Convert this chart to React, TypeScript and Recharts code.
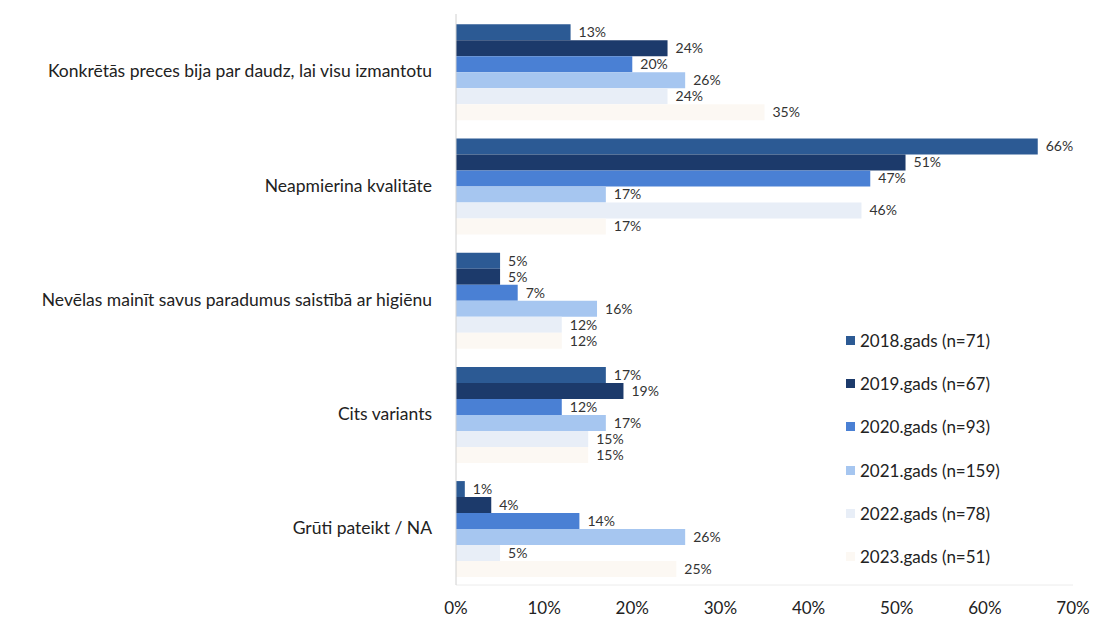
import { BarChart, Bar, XAxis, YAxis, LabelList } from "recharts";

const categories = [
  "Konkrētās preces bija par daudz, lai visu izmantotu",
  "Neapmierina kvalitāte",
  "Nevēlas mainīt savus paradumus saistībā ar higiēnu",
  "Cits variants",
  "Grūti pateikt / NA",
];

const y2018 = [13, 66, 5, 17, 1];
const y2019 = [24, 51, 5, 19, 4];
const y2020 = [20, 47, 7, 12, 14];
const y2021 = [26, 17, 16, 17, 26];
const y2022 = [24, 46, 12, 15, 5];
const y2023 = [35, 17, 12, 15, 25];

const seriesNames = [
  "2018.gads (n=71)",
  "2019.gads (n=67)",
  "2020.gads (n=93)",
  "2021.gads (n=159)",
  "2022.gads (n=78)",
  "2023.gads (n=51)",
];

const xTicks = [0, 10, 20, 30, 40, 50, 60, 70];

const colors = ["#2c5a94", "#1c3a6b", "#4a80d4", "#a6c6f0", "#e8eef7", "#fcf8f3"];

const keys = ["y2018", "y2019", "y2020", "y2021", "y2022", "y2023"];
const values = [y2018, y2019, y2020, y2021, y2022, y2023];

const data = categories.map((name, i) => {
  const row: Record<string, string | number> = { name };
  keys.forEach((k, s) => {
    row[k] = values[s][i];
  });
  return row;
});

const font = "Lato, 'Open Sans', sans-serif";

function LegendBox() {
  return (
    <div
      style={{
        position: "absolute",
        left: 846,
        top: 319,
        fontFamily: font,
        fontSize: 17,
        color: "#222",
      }}
    >
      {seriesNames.map((n, i) => (
        <div key={n} style={{ display: "flex", alignItems: "center", height: 43.2 }}>
          <span
            style={{
              display: "inline-block",
              width: 9,
              height: 9,
              background: colors[i],
              marginRight: 5,
            }}
          />
          {n}
        </div>
      ))}
    </div>
  );
}

export default function App() {
  return (
    <div style={{ position: "absolute", left: 0, top: 0, width: 1100, height: 618, background: "#fff" }}>
      <BarChart
        width={1100}
        height={618}
        data={data}
        layout="vertical"
        margin={{ top: 14, right: 27, bottom: 5, left: 0 }}
        barCategoryGap="9%"
        barGap={0}
      >
        <XAxis
          type="number"
          domain={[0, 70]}
          ticks={xTicks}
          tickFormatter={(v) => `${v}%`}
          axisLine={{ stroke: "#ececec" }}
          tickLine={false}
          tickMargin={11}
          height={28}
          tick={{ fontSize: 17, fill: "#222", fontFamily: font }}
        />
        <YAxis
          type="category"
          dataKey="name"
          width={456}
          axisLine={{ stroke: "#d0d0d0" }}
          tickLine={false}
          tickMargin={18}
          tick={{ fontSize: 17.5, fill: "#222", fontFamily: font }}
        />
        {keys.map((k, s) => (
          <Bar
            key={k}
            dataKey={k}
            name={seriesNames[s]}
            fill={colors[s]}
            isAnimationActive={false}
          >
            <LabelList
              dataKey={k}
              position="right"
              offset={8}
              formatter={(v: number) => `${v}%`}
              style={{ fontSize: 14, fill: "#333", fontFamily: font }}
            />
          </Bar>
        ))}
      </BarChart>
      <LegendBox />
    </div>
  );
}
